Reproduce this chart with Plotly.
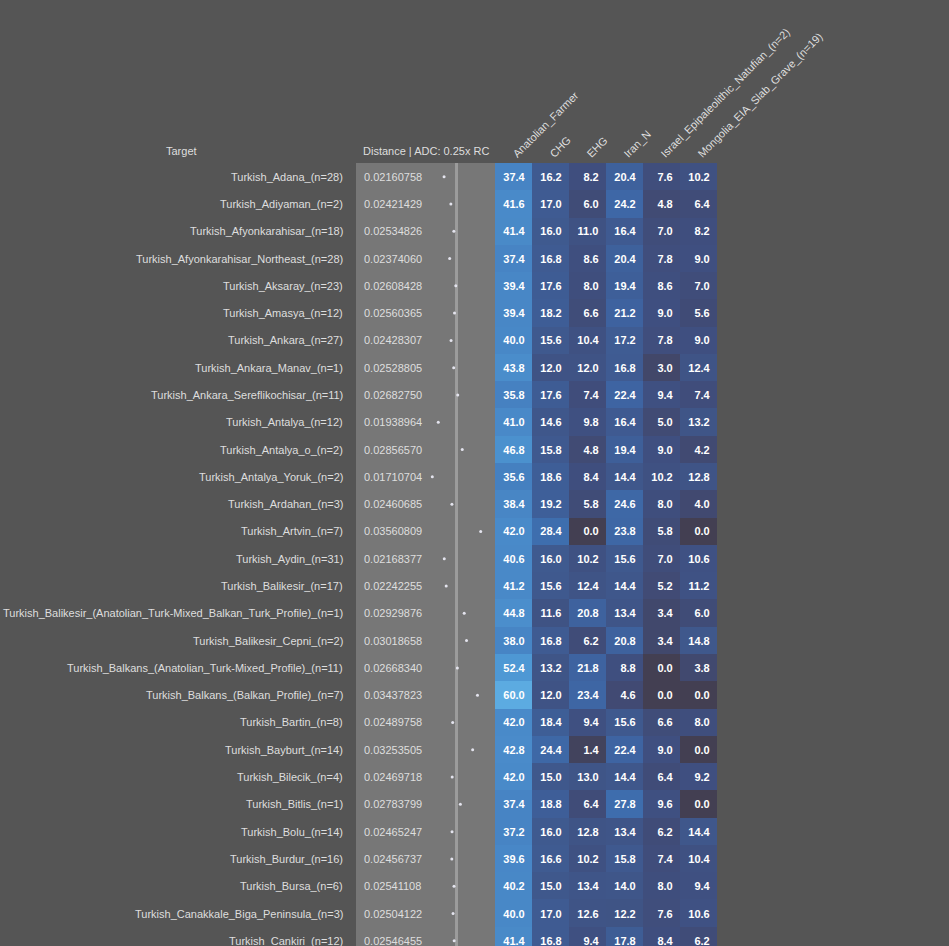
import plotly.graph_objects as go

targets = [
    "Turkish_Adana_(n=28)",
    "Turkish_Adiyaman_(n=2)",
    "Turkish_Afyonkarahisar_(n=18)",
    "Turkish_Afyonkarahisar_Northeast_(n=28)",
    "Turkish_Aksaray_(n=23)",
    "Turkish_Amasya_(n=12)",
    "Turkish_Ankara_(n=27)",
    "Turkish_Ankara_Manav_(n=1)",
    "Turkish_Ankara_Sereflikochisar_(n=11)",
    "Turkish_Antalya_(n=12)",
    "Turkish_Antalya_o_(n=2)",
    "Turkish_Antalya_Yoruk_(n=2)",
    "Turkish_Ardahan_(n=3)",
    "Turkish_Artvin_(n=7)",
    "Turkish_Aydin_(n=31)",
    "Turkish_Balikesir_(n=17)",
    "Turkish_Balikesir_(Anatolian_Turk-Mixed_Balkan_Turk_Profile)_(n=1)",
    "Turkish_Balikesir_Cepni_(n=2)",
    "Turkish_Balkans_(Anatolian_Turk-Mixed_Profile)_(n=11)",
    "Turkish_Balkans_(Balkan_Profile)_(n=7)",
    "Turkish_Bartin_(n=8)",
    "Turkish_Bayburt_(n=14)",
    "Turkish_Bilecik_(n=4)",
    "Turkish_Bitlis_(n=1)",
    "Turkish_Bolu_(n=14)",
    "Turkish_Burdur_(n=16)",
    "Turkish_Bursa_(n=6)",
    "Turkish_Canakkale_Biga_Peninsula_(n=3)",
    "Turkish_Cankiri_(n=12)",
]

distances = [
    0.02160758, 0.02421429, 0.02534826, 0.02374060, 0.02608428, 0.02560365,
    0.02428307, 0.02528805, 0.02682750, 0.01938964, 0.02856570, 0.01710704,
    0.02460685, 0.03560809, 0.02168377, 0.02242255, 0.02929876, 0.03018658,
    0.02668340, 0.03437823, 0.02489758, 0.03253505, 0.02469718, 0.02783799,
    0.02465247, 0.02456737, 0.02541108, 0.02504122, 0.02546455,
]

sources = [
    "Anatolian_Farmer",
    "CHG",
    "EHG",
    "Iran_N",
    "Israel_Epipaleolithic_Natufian_(n=2)",
    "Mongolia_EIA_Slab_Grave_(n=19)",
]

anatolian_farmer = [37.4, 41.6, 41.4, 37.4, 39.4, 39.4, 40.0, 43.8, 35.8, 41.0, 46.8, 35.6, 38.4, 42.0, 40.6,
                    41.2, 44.8, 38.0, 52.4, 60.0, 42.0, 42.8, 42.0, 37.4, 37.2, 39.6, 40.2, 40.0, 41.4]
chg = [16.2, 17.0, 16.0, 16.8, 17.6, 18.2, 15.6, 12.0, 17.6, 14.6, 15.8, 18.6, 19.2, 28.4, 16.0,
       15.6, 11.6, 16.8, 13.2, 12.0, 18.4, 24.4, 15.0, 18.8, 16.0, 16.6, 15.0, 17.0, 16.8]
ehg = [8.2, 6.0, 11.0, 8.6, 8.0, 6.6, 10.4, 12.0, 7.4, 9.8, 4.8, 8.4, 5.8, 0.0, 10.2,
       12.4, 20.8, 6.2, 21.8, 23.4, 9.4, 1.4, 13.0, 6.4, 12.8, 10.2, 13.4, 12.6, 9.4]
iran_n = [20.4, 24.2, 16.4, 20.4, 19.4, 21.2, 17.2, 16.8, 22.4, 16.4, 19.4, 14.4, 24.6, 23.8, 15.6,
          14.4, 13.4, 20.8, 8.8, 4.6, 15.6, 22.4, 14.4, 27.8, 13.4, 15.8, 14.0, 12.2, 17.8]
natufian = [7.6, 4.8, 7.0, 7.8, 8.6, 9.0, 7.8, 3.0, 9.4, 5.0, 9.0, 10.2, 8.0, 5.8, 7.0,
            5.2, 3.4, 3.4, 0.0, 0.0, 6.6, 9.0, 6.4, 9.6, 6.2, 7.4, 8.0, 7.6, 8.4]
slab_grave = [10.2, 6.4, 8.2, 9.0, 7.0, 5.6, 9.0, 12.4, 7.4, 13.2, 4.2, 12.8, 4.0, 0.0, 10.6,
              11.2, 6.0, 14.8, 3.8, 0.0, 8.0, 0.0, 9.2, 0.0, 14.4, 10.4, 9.4, 10.6, 6.2]

# reference line drawn in the distance column
ref_distance = 0.02636

W, H = 949, 946
TOP = 163
FONT = "Liberation Sans, Arial, sans-serif"
TXT = "#dedede"

rows = list(range(len(targets)))
columns = [anatolian_farmer, chg, ehg, iran_n, natufian, slab_grave]

# heatmap z is row-major: one list per target
z = []
cell_text = []
for i in rows:
    z.append([col[i] for col in columns])
    # pad with a figure space so single digit values line up like the original
    cell_text.append([("%.1f" % col[i]).rjust(4, "\u2007") for col in columns])

fig = go.Figure()

# distance dots
fig.add_trace(go.Scatter(
    x=distances, y=rows, mode="markers",
    marker=dict(size=3, color="#e4e4ee"),
    xaxis="x", yaxis="y", hoverinfo="x+y", showlegend=False,
))

# admixture heatmap
fig.add_trace(go.Heatmap(
    z=z, x=sources, y=rows,
    xaxis="x2", yaxis="y",
    zmin=0, zmax=60,
    colorscale=[
        [0.0, "#433f52"],
        [0.07, "#414a72"],
        [0.15, "#3f4f80"],
        [0.22, "#3f5587"],
        [0.36, "#3e63a0"],
        [0.47, "#3e6eae"],
        [0.62, "#4784c4"],
        [0.87, "#4e98d4"],
        [1.0, "#5cabe1"],
    ],
    text=cell_text, texttemplate="%{text}",
    textfont=dict(family=FONT, size=11, color="white", weight="bold"),
    showscale=False,
))

d_px0, d_px1 = 356, 495
h_px1 = 717
d_lo = (d_px0 - 387.55) / 2616
d_hi = (d_px1 - 387.55) / 2616

shapes = [
    dict(type="rect", xref="x domain", yref="paper", x0=0, x1=1, y0=0, y1=1,
         fillcolor="#777777", line=dict(width=0), layer="below"),
    dict(type="line", xref="x", yref="paper", x0=ref_distance, x1=ref_distance, y0=0, y1=1,
         line=dict(color="#9c9c9c", width=3), layer="below"),
]

annotations = []
for i in rows:
    annotations.append(dict(
        text=targets[i], x=345 / W, y=i, xref="paper", yref="y",
        xanchor="right", yanchor="middle", showarrow=False,
        font=dict(family=FONT, size=11, color=TXT),
    ))
    annotations.append(dict(
        text="%.8f" % distances[i], x=362 / W, y=i, xref="paper", yref="y",
        xanchor="left", yanchor="middle", showarrow=False,
        font=dict(family=FONT, size=11, color=TXT),
    ))

annotations.append(dict(text="Target", x=181 / W, y=1, xref="paper", yref="paper",
                        xanchor="center", yanchor="bottom", yshift=4, showarrow=False,
                        font=dict(family=FONT, size=11, color=TXT)))
annotations.append(dict(text="Distance | ADC: 0.25x RC", x=361 / W, y=1, xref="paper", yref="paper",
                        xanchor="left", yanchor="bottom", yshift=4, showarrow=False,
                        font=dict(family=FONT, size=11, color=TXT)))

fig.update_layout(
    width=W, height=H, autosize=False,
    margin=dict(l=0, r=0, t=TOP, b=0, pad=0, autoexpand=False),
    paper_bgcolor="#555555", plot_bgcolor="#555555",
    font=dict(family=FONT, size=11, color=TXT),
    xaxis=dict(domain=[d_px0 / W, d_px1 / W], range=[d_lo, d_hi], automargin=False,
               showgrid=False, zeroline=False, showticklabels=False, ticks="",
               fixedrange=True),
    xaxis2=dict(domain=[d_px1 / W, h_px1 / W], anchor="y", side="top", automargin=False,
                tickangle=-45, showgrid=False, zeroline=False, ticks="",
                tickfont=dict(family=FONT, size=11, color=TXT)),
    # last row is cut by the bottom edge, as in the reference
    yaxis=dict(range=[len(targets) - 0.81, -0.5], anchor="x", automargin=False,
               showgrid=False, zeroline=False, showticklabels=False, ticks=""),
    shapes=shapes,
    annotations=annotations,
)

# drop the browser's default page margin so the figure sits at the window corner
fig.write_html("out.html", config={"responsive": False, "displayModeBar": False},
               post_script="document.body.style.margin='0';document.body.style.overflow='hidden';")
